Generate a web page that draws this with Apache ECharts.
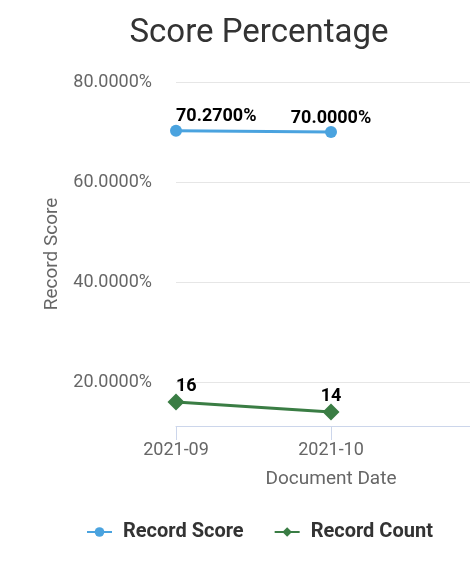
<!DOCTYPE html>
<html>
<head>
<meta charset="utf-8">
<script src="https://cdn.jsdelivr.net/npm/echarts@6/dist/echarts.min.js"></script>
<style>
  html, body { margin: 0; padding: 0; background: #fff; }
  #chart { width: 470px; height: 566px; }
</style>
</head>
<body>
<div id="chart"></div>
<script>
// categories (last one is an empty slot, the plot runs past the window edge)
const months = ['2021-09', '2021-10', '']
// record score in percent
const recordScore = [70.27, 70.0]
// record count
const recordCount = [16, 14]

const font = 'Roboto'

// first label sits to the right of its point
function withLabels(values) {
  return values.map((v, i) => i === 0 ? { value: v, label: { align: 'left' } } : v)
}

const chart = echarts.init(document.getElementById('chart'))
chart.setOption({
  animation: false,
  title: {
    text: 'Score Percentage',
    left: 254,
    top: 12,
    textAlign: 'center',
    textStyle: { fontFamily: font, fontSize: 33, fontWeight: 'normal', color: '#333' }
  },
  legend: {
    left: 81,
    top: 517,
    itemWidth: 25,
    itemHeight: 12,
    itemGap: 30,
    textStyle: { fontFamily: font, fontSize: 20, fontWeight: 'bold', color: '#333', padding: [0, 0, 0, 6] },
    data: ['Record Score', 'Record Count']
  },
  grid: { left: 176, top: 82, width: 310, bottom: 140, outerBoundsMode: 'none' },
  xAxis: {
    type: 'category',
    data: months,
    boundaryGap: false,
    name: 'Document Date',
    nameLocation: 'middle',
    nameGap: 44,
    nameTextStyle: { fontFamily: font, fontSize: 19, color: '#666' },
    axisLine: { lineStyle: { color: '#ccd6eb', width: 1 } },
    axisTick: { alignWithLabel: true, length: 14, lineStyle: { color: '#ccd6eb' } },
    axisLabel: { fontFamily: font, fontSize: 18, color: '#666', margin: 15 }
  },
  yAxis: {
    type: 'value',
    min: 11.2,
    max: 80,
    splitNumber: 3,
    name: 'Record Score',
    nameLocation: 'middle',
    nameGap: 114,
    nameTextStyle: { fontFamily: font, fontSize: 19, color: '#666' },
    axisLine: { show: false },
    axisTick: { show: false },
    axisLabel: {
      fontFamily: font, fontSize: 18, color: '#666', margin: 24,
      showMinLabel: false,
      formatter: v => v.toFixed(4) + '%'
    },
    splitLine: { lineStyle: { color: '#e6e6e6', width: 1 } }
  },
  series: [
    {
      name: 'Record Score',
      type: 'line',
      data: withLabels(recordScore),
      symbol: 'circle',
      symbolSize: 12,
      itemStyle: { color: '#4aa3df' },
      lineStyle: { width: 3, color: '#4aa3df' },
      label: {
        show: true, position: 'top', distance: 2, offset: [0, 3],
        fontFamily: font, fontSize: 18, fontWeight: 'bold', color: '#000',
        formatter: p => p.value.toFixed(4) + '%'
      }
    },
    {
      name: 'Record Count',
      type: 'line',
      data: withLabels(recordCount),
      symbol: 'diamond',
      symbolSize: 17,
      itemStyle: { color: '#3a7d44' },
      lineStyle: { width: 3, color: '#3a7d44' },
      label: {
        show: true, position: 'top', distance: 0, offset: [0, 2],
        fontFamily: font, fontSize: 18, fontWeight: 'bold', color: '#000'
      }
    }
  ]
})
</script>
</body>
</html>
